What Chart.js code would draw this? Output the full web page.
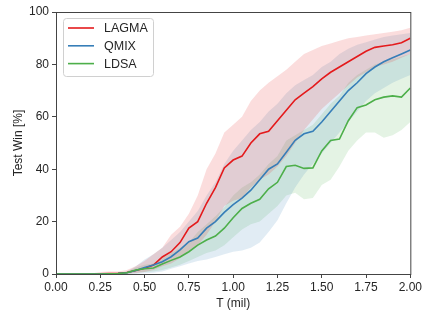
<!DOCTYPE html>
<html>
<head>
<meta charset="utf-8">
<script src="https://cdn.jsdelivr.net/npm/chart.js@4.4.1/dist/chart.umd.min.js"></script>
<style>
  html, body { margin: 0; padding: 0; background: #fff; }
  #wrap { width: 424px; height: 311px; position: relative; }
</style>
</head>
<body>
<div id="wrap"><canvas id="grafico"></canvas></div>
<script>
// Eixo x: T (mil), passos de 0.05
const passos = [0, 0.05, 0.1, 0.15, 0.2, 0.25, 0.3, 0.35, 0.4, 0.45, 0.5, 0.55, 0.6, 0.65, 0.7, 0.75, 0.8, 0.85, 0.9, 0.95,
    1.0, 1.05, 1.1, 1.15, 1.2, 1.25, 1.3, 1.35, 1.4, 1.45, 1.5, 1.55, 1.6, 1.65, 1.7, 1.75, 1.8, 1.85, 1.9, 1.95, 2.0];

// LAGMA
const lagmaMedia = [0, 0, 0, 0, 0, 0.1, 0.2, 0.3, 0.6, 1.3, 2.2, 3.4, 6.5, 8.5, 12, 17.5, 20, 27, 33, 40.5,
    43.5, 45, 50, 53.5, 54.5, 58.5, 62.5, 66.5, 69, 71.5, 74.5, 77, 79, 81, 83, 85, 86.5, 87, 87.5, 88.3, 90];
const lagmaSup = [0, 0, 0.1, 0.1, 0.2, 0.8, 1, 1, 1.5, 3, 5, 7.5, 10, 15, 18, 23, 30, 40, 46, 54,
    57, 60, 66, 70, 73, 75.5, 78, 81, 84, 85.5, 87, 88, 89, 90, 90.5, 91, 91.5, 92, 92.5, 93, 94];
const lagmaInf = [0, 0, 0, 0, 0, 0, 0, 0, 0.1, 0.3, 0.8, 1.5, 3, 4, 6, 9, 11, 15, 20, 26,
    28, 29, 33, 36, 38, 41, 45, 50, 55, 59, 63, 66, 69, 72, 75, 77, 79, 80, 81, 82.5, 84];

// QMIX
const qmixMedia = [0, 0, 0, 0, 0, 0, 0.1, 0.2, 0.5, 1.3, 2.5, 3.4, 4.7, 6.6, 9.2, 12.3, 13.7, 17.5, 20, 23.5,
    26.5, 29, 32, 36, 40, 42, 46.5, 51, 53.5, 54.5, 58, 62, 66, 70, 73, 76.5, 79, 81, 82.5, 84, 85.5];
const qmixSup = [0, 0, 0, 0, 0, 0, 0.2, 0.5, 1, 3, 5.5, 7.5, 10, 13, 16, 20, 24, 30, 35, 42,
    47, 51, 55, 58, 62, 65, 69, 72, 74, 76, 79, 81, 84, 86, 87.5, 88.5, 89.5, 90.5, 91, 91.5, 92];
const qmixInf = [0, 0, 0, 0, 0, 0, 0, 0, 0, 0, 0.3, 0.5, 1, 2, 3, 4, 5, 5.5, 6.5, 7.5,
    8.5, 9, 10, 12, 16, 20.5, 27, 33, 38, 42, 46, 50, 54, 58, 62, 66, 69, 71, 73, 74.5, 76];

// LDSA
const ldsaMedia = [0, 0, 0, 0, 0, 0, 0.1, 0.2, 0.5, 1.5, 2, 2.3, 3.8, 5.2, 6.5, 8.5, 11, 13, 14.5, 17.5,
    21.5, 25, 27, 28.5, 32.5, 35, 41, 41.5, 40.3, 40.5, 47, 51, 51.5, 58.5, 63.5, 64.5, 66.5, 67.5, 68, 67.5, 71];
const ldsaSup = [0, 0, 0, 0, 0, 0, 0.2, 0.4, 1, 2.5, 3.5, 4, 6, 8, 10, 12, 16, 19, 22, 25.5,
    30, 33, 35, 38, 42, 45, 51, 53, 55, 57, 61, 65, 68, 73, 76, 78, 80, 81, 82, 83, 84];
const ldsaInf = [0, 0, 0, 0, 0, 0, 0, 0, 0.1, 0.5, 0.8, 1, 1.5, 2.5, 3.5, 5, 6.5, 8, 9, 11,
    14, 17, 19, 20, 23, 26, 30, 31, 28.5, 29, 34, 36, 41, 47, 51, 54, 54, 52, 53, 55, 58];

const metodos = [
    { nome: 'LAGMA', cor: '#e41a1c', banda: 'rgba(228, 26, 28, 0.15)', media: lagmaMedia, sup: lagmaSup, inf: lagmaInf },
    { nome: 'QMIX', cor: '#377eb8', banda: 'rgba(55, 126, 184, 0.15)', media: qmixMedia, sup: qmixSup, inf: qmixInf },
    { nome: 'LDSA', cor: '#4daf4a', banda: 'rgba(77, 175, 74, 0.15)', media: ldsaMedia, sup: ldsaSup, inf: ldsaInf }
];

const pontos = valores => valores.map((v, i) => ({ x: passos[i], y: v }));

const datasets = [];
metodos.forEach((m, k) => {
    // banda superior preenchida até a inferior
    datasets.push({ label: m.nome + ' sup', data: pontos(m.sup), borderWidth: 0, pointRadius: 0,
        backgroundColor: m.banda, fill: '+1', order: 10 + k, tension: 0 });
    datasets.push({ label: m.nome + ' inf', data: pontos(m.inf), borderWidth: 0, pointRadius: 0,
        backgroundColor: m.banda, fill: false, order: 10 + k, tension: 0 });
});
metodos.forEach((m, k) => {
    datasets.push({ label: m.nome, data: pontos(m.media), borderColor: m.cor, borderWidth: 1.6,
        pointRadius: 0, fill: false, order: 3 - k, tension: 0 });
});

const fonte = 'Liberation Sans, Arial, sans-serif';
const corTexto = '#262626';

// moldura da área do gráfico e legenda
const molduraLegenda = {
    id: 'molduraLegenda',
    afterDraw(chart) {
        const { ctx, chartArea: a } = chart;
        ctx.save();
        ctx.strokeStyle = '#444';
        ctx.lineWidth = 1;
        ctx.strokeRect(a.left + 0.5, a.top + 0.5, a.right - a.left, a.bottom - a.top);

        const x0 = a.left + 7, y0 = a.top + 6, w = 90, h = 58;
        ctx.fillStyle = 'rgba(255,255,255,0.85)';
        ctx.strokeStyle = '#d0d0d0';
        ctx.beginPath();
        ctx.roundRect(x0 + 0.5, y0 + 0.5, w, h, 3);
        ctx.fill();
        ctx.stroke();

        ctx.font = '12.5px ' + fonte;
        ctx.textBaseline = 'middle';
        metodos.forEach((m, i) => {
            const y = y0 + 10 + i * 17.8;
            ctx.strokeStyle = m.cor;
            ctx.lineWidth = 1.6;
            ctx.beginPath();
            ctx.moveTo(x0 + 5, y);
            ctx.lineTo(x0 + 31, y);
            ctx.stroke();
            ctx.fillStyle = corTexto;
            ctx.fillText(m.nome, x0 + 41, y + 0.5);
        });
        ctx.restore();
    }
};

new Chart(document.getElementById('grafico').getContext('2d'), {
    type: 'line',
    data: { datasets: datasets },
    options: {
        responsive: true,
        maintainAspectRatio: false,
        animation: false,
        layout: { padding: { top: 12, right: 10, left: 11, bottom: 0 } },
        plugins: { legend: { display: false }, tooltip: { enabled: false } },
        scales: {
            x: {
                type: 'linear',
                min: 0,
                max: 2,
                afterFit: scale => { scale.height = 37; },
                ticks: {
                    stepSize: 0.25,
                    callback: v => v.toFixed(2),
                    color: corTexto,
                    font: { family: fonte, size: 12 },
                    padding: 2,
                    maxRotation: 0
                },
                grid: { drawOnChartArea: false, drawTicks: true, tickLength: 4, color: '#444' },
                border: { display: true, color: '#444' },
                title: { display: true, text: 'T (mil)', color: corTexto, font: { family: fonte, size: 12 }, padding: { top: 1, bottom: 0 } }
            },
            y: {
                min: 0,
                max: 100,
                afterFit: scale => { scale.width = 45; },
                ticks: {
                    stepSize: 20,
                    color: corTexto,
                    font: { family: fonte, size: 12 },
                    padding: 3
                },
                grid: { drawOnChartArea: false, drawTicks: true, tickLength: 4, color: '#444' },
                border: { display: true, color: '#444' },
                title: { display: true, text: 'Test Win [%]', color: corTexto, font: { family: fonte, size: 12 }, padding: { top: 0, bottom: 2 } }
            }
        }
    },
    plugins: [molduraLegenda]
});
</script>
</body>
</html>
